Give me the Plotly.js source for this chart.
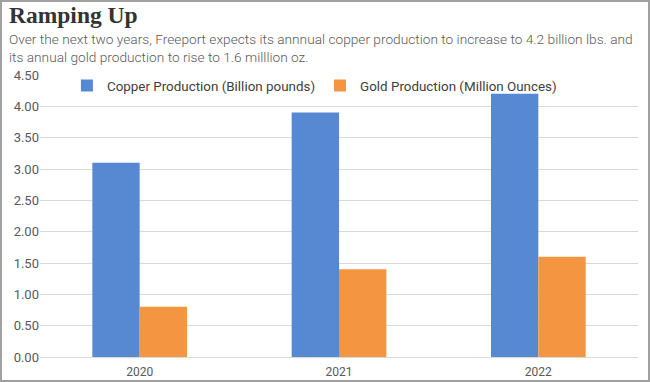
<!DOCTYPE html>
<html>
<head>
<meta charset="utf-8">
<script src="https://cdn.plot.ly/plotly-3.0.1.min.js"></script>
<style>
html,body{margin:0;padding:0;background:#fff;}
#chart{width:650px;height:382px;}
#frame{position:absolute;left:0;top:0;width:650px;height:382px;box-sizing:border-box;border:2px solid #a0a0a0;pointer-events:none;}
</style>
</head>
<body>
<div id="chart"></div>
<div id="frame"></div>
<script>
var years = ['2020', '2021', '2022'];
var copper = [3.10, 3.90, 4.20];
var gold = [0.80, 1.40, 1.60];
var yTicks = [0, 0.5, 1, 1.5, 2, 2.5, 3, 3.5, 4, 4.5];
var yTickLabels = ['0.00','0.50','1.00','1.50','2.00','2.50','3.00','3.50','4.00','4.50'];

var traces = [
  {type:'bar', x: years, y: copper, name:'Copper Production (Billion pounds)', marker:{color:'#5689D2'}, hoverinfo:'none'},
  {type:'bar', x: years, y: gold, name:'Gold Production (Million Ounces)', marker:{color:'#F39541'}, hoverinfo:'none'}
];

var layout = {
  width:650, height:382,
  margin:{l:40, r:12, t:75, b:25},
  paper_bgcolor:'#fff', plot_bgcolor:'#fff',
  barmode:'group', bargap:0.525, bargroupgap:0,
  font:{family:'Roboto, sans-serif', color:'#595959', size:12},
  showlegend:true,
  legend:{orientation:'h', x:0.045, xanchor:'left', y:1.017, yanchor:'top', font:{size:13.4, color:'#404040'}, bgcolor:'rgba(0,0,0,0)', itemwidth:30, traceorder:'normal'},
  xaxis:{type:'category', showgrid:false, showline:true, linecolor:'#d9d9d9', linewidth:1, ticks:'', ticklabelstandoff:4, tickfont:{size:12, color:'#595959'}},
  yaxis:{range:[0,4.5], tickvals:yTicks, ticktext:yTickLabels, showgrid:true, gridcolor:'#d9d9d9', zeroline:false, showline:false, ticks:'', ticklen:0, tickfont:{size:13, color:'#595959'}},
  annotations:[
    {xref:'paper', yref:'paper', x:-0.055, y:1.0, xanchor:'left', yanchor:'bottom', yshift:45, showarrow:false, align:'left',
     text:'<b>Ramping Up</b>', font:{family:'Liberation Serif, serif', size:23.5, color:'#333333'}},
    {xref:'paper', yref:'paper', x:-0.055, y:1.0, xanchor:'left', yanchor:'bottom', yshift:8, showarrow:false, align:'left',
     text:'Over the next two years, Freeport expects its annnual copper production to increase to 4.2 billion lbs. and<br>its annual gold production to rise to 1.6 milllion oz.',
     font:{family:'Roboto, sans-serif', size:13.7, color:'#5a5a5a', weight:300}}
  ]
};

Plotly.newPlot('chart', traces, layout, {displayModeBar:false, staticPlot:true});
</script>
</body>
</html>
